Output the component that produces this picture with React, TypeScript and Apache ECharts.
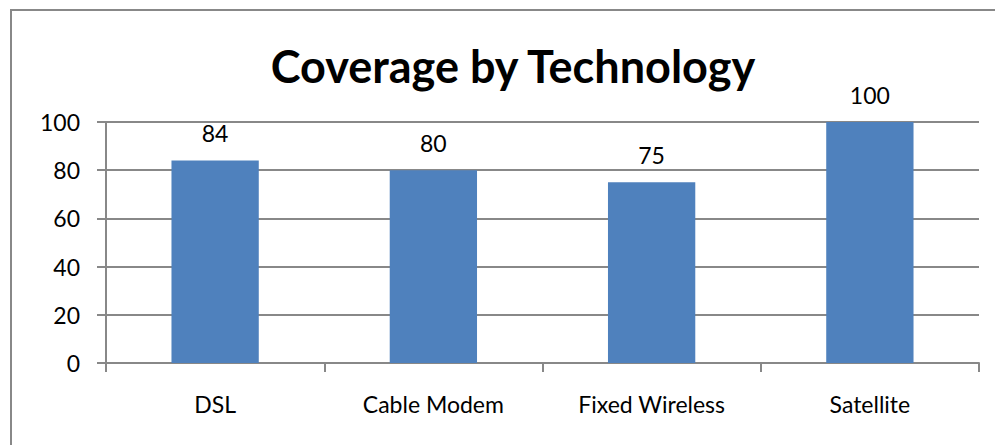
import React, { useEffect, useRef } from "react";
import * as echarts from "echarts";

const titleText = "Coverage by Technology";
const categories = ["DSL", "Cable Modem", "Fixed Wireless", "Satellite"];
const coverage = [84, 80, 75, 100];
const yTicks = { min: 0, max: 100, interval: 20 };

const FONT = "Lato, 'Noto Sans', sans-serif";
const GREY = "#888888";

export default function App() {
  const ref = useRef<HTMLDivElement>(null);
  useEffect(() => {
    if (!ref.current) return;
    const chart = echarts.init(ref.current, null, { renderer: "svg" });
    chart.setOption({
      animation: false,
      backgroundColor: "#ffffff",
      title: {
        text: titleText,
        left: 508,
        textAlign: "center",
        top: 38,
        textStyle: { fontFamily: FONT, fontSize: 45, fontWeight: "bold", color: "#000" },
      },
      graphic: [
        {
          type: "rect",
          shape: { x: 11, y: 10, width: 1100, height: 600 },
          style: { fill: "none", stroke: GREY, lineWidth: 2 },
          silent: true,
        },
      ],
      grid: { left: 106, right: 16, top: 122, bottom: 82, containLabel: false },
      xAxis: {
        type: "category",
        data: categories,
        boundaryGap: true,
        axisLine: { show: true, lineStyle: { color: GREY, width: 2 } },
        axisTick: { show: true, length: 9, alignWithLabel: false, lineStyle: { color: GREY, width: 2 } },
        axisLabel: { fontFamily: FONT, fontSize: 23, color: "#000", margin: 29, interval: 0 },
        splitLine: { show: false },
      },
      yAxis: {
        type: "value",
        min: yTicks.min,
        max: yTicks.max,
        interval: yTicks.interval,
        axisLine: { show: true, lineStyle: { color: GREY, width: 2 } },
        axisTick: { show: true, length: 9, lineStyle: { color: GREY, width: 2 } },
        axisLabel: { fontFamily: FONT, fontSize: 23, color: "#000", margin: 26 },
        splitLine: { show: true, lineStyle: { color: GREY, width: 2 } },
      },
      series: [
        {
          type: "bar",
          data: coverage,
          barWidth: "40%",
          itemStyle: { color: "#4F81BD" },
          label: {
            show: true,
            position: "top",
            distance: 16,
            fontFamily: FONT,
            fontSize: 23,
            color: "#000",
          },
        },
      ],
    });
    return () => chart.dispose();
  }, []);
  return (
    <div
      ref={ref}
      style={{ position: "fixed", left: 0, top: 0, width: 995, height: 445 }}
    />
  );
}
